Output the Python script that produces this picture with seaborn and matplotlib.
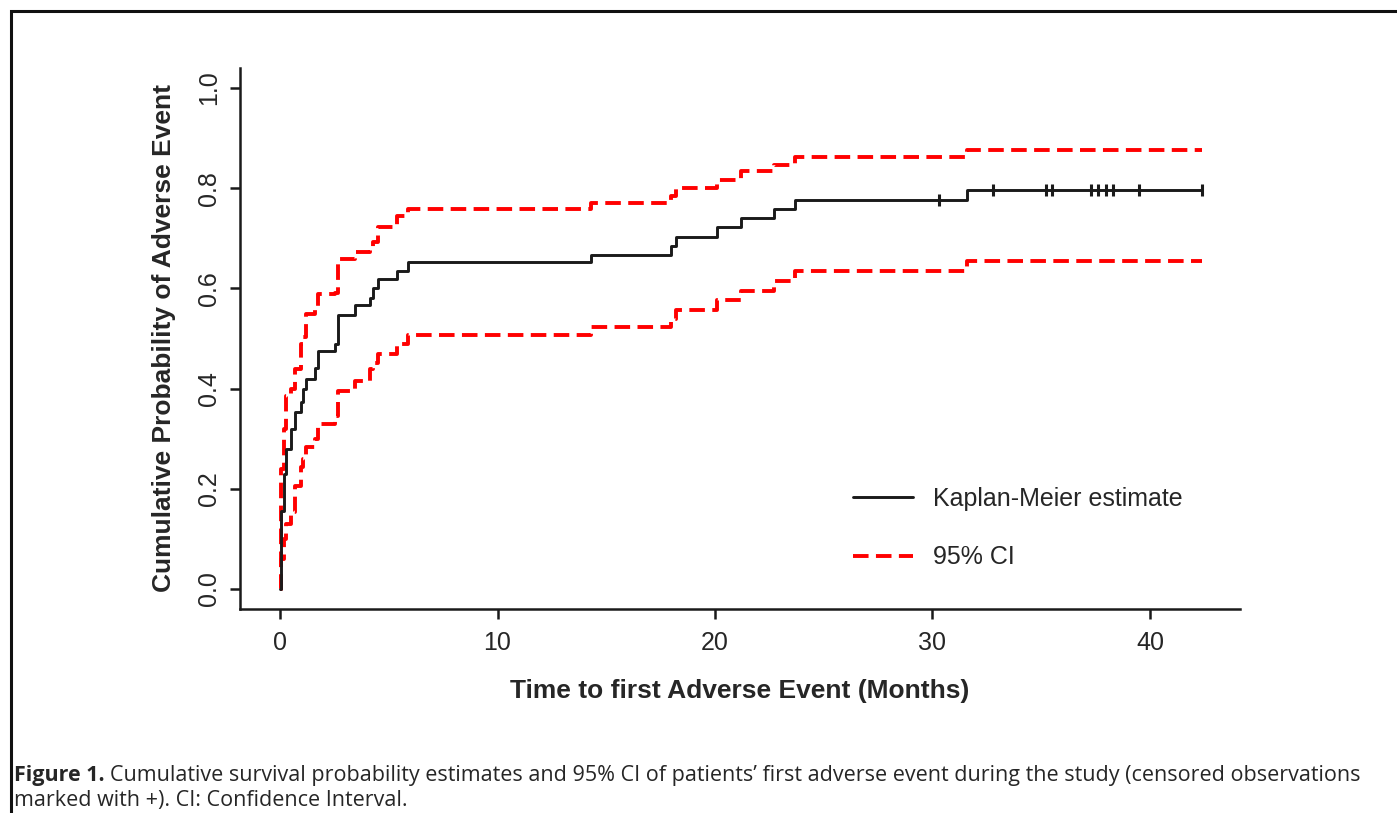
"""
Kaplan-Meier cumulative incidence of first adverse event, with 95% CI.
"""
import numpy as np
import pandas as pd
import matplotlib
matplotlib.use("Agg")
import matplotlib.pyplot as plt
from matplotlib.lines import Line2D
from matplotlib.patches import Rectangle
import seaborn as sns

#================================
# DATA
#================================
event_months = [0.05, 0.18, 0.28, 0.49, 0.69, 0.95, 1.07, 1.2, 1.61, 1.76,
                2.53, 2.68, 3.45, 4.14, 4.29, 4.52, 5.36, 5.9, 14.3, 18.0,
                18.2, 20.1, 21.2, 22.7, 23.7, 31.6]
km_estimate = [0.156, 0.23, 0.279, 0.319, 0.353, 0.373, 0.40, 0.419, 0.442, 0.476,
               0.489, 0.546, 0.566, 0.581, 0.600, 0.619, 0.635, 0.652, 0.667, 0.685,
               0.703, 0.722, 0.740, 0.758, 0.777, 0.796]
ci_upper = [0.24, 0.32, 0.386, 0.40, 0.44, 0.49, 0.502, 0.549, 0.556, 0.589,
            0.59, 0.659, 0.672, 0.68, 0.692, 0.722, 0.745, 0.758, 0.770, 0.785,
            0.801, 0.817, 0.834, 0.846, 0.863, 0.877]
ci_lower = [0.06, 0.10, 0.13, 0.154, 0.206, 0.243, 0.26, 0.283, 0.30, 0.329,
            0.346, 0.396, 0.416, 0.44, 0.452, 0.469, 0.49, 0.506, 0.522, 0.539,
            0.557, 0.576, 0.594, 0.615, 0.635, 0.654]
censor_months = [30.3, 32.8, 35.2, 35.5, 37.3, 37.6, 38.0, 38.3, 39.5, 42.4]
end_month = 42.4

x_ticks = [0, 10, 20, 30, 40]
y_ticks = [0.0, 0.2, 0.4, 0.6, 0.8, 1.0]


def step_frame(values, name):
    return pd.DataFrame({
        "month": [0.0] + event_months + [end_month],
        "prob": [0.0] + values + [values[-1]],
        "series": name,
    })


km_df = step_frame(km_estimate, "km")
ci_df = pd.concat([step_frame(ci_upper, "upper"), step_frame(ci_lower, "lower")])

# KM level at each censoring time
idx = np.searchsorted(event_months, censor_months, side="right") - 1
censor_df = pd.DataFrame({
    "month": censor_months,
    "prob": [km_estimate[i] for i in idx],
})

#================================
# PLOT
#================================
sns.set_style("ticks")
plt.rcParams["font.family"] = ["Liberation Sans", "DejaVu Sans"]

W, H = 1397, 813
fig = plt.figure(figsize=(W / 100, H / 100), dpi=100)
ax = fig.add_axes([240 / W, 1 - 609 / H, 1000 / W, 541 / H])

red_dash = (0, (4.0, 1.9))
sns.lineplot(data=ci_df, x="month", y="prob", units="series", estimator=None,
             color="#ff0000", lw=2.8, linestyle=red_dash, drawstyle="steps-post",
             sort=False, ax=ax)
sns.lineplot(data=km_df, x="month", y="prob", estimator=None, color="#1a1a1a",
             lw=2.1, drawstyle="steps-post", sort=False, ax=ax)
sns.scatterplot(data=censor_df, x="month", y="prob", marker="|", s=70,
                color="#1a1a1a", linewidth=2.2, ax=ax, zorder=4)

ax.set_xlim(-1.84, 44.14)
ax.set_ylim(-0.04, 1.04)
ax.set_xticks(x_ticks)
ax.set_yticks(y_ticks)
ax.set_xticklabels([str(t) for t in x_ticks])
ax.set_yticklabels([f"{t:.1f}" for t in y_ticks], rotation=90, va="center")
ax.tick_params(axis="both", labelsize=18, width=1.8, length=7, color="#1a1a1a")
ax.tick_params(axis="x", pad=9)
ax.tick_params(axis="y", pad=6.5)
for side in ["left", "bottom"]:
    ax.spines[side].set_linewidth(1.8)
    ax.spines[side].set_color("#1a1a1a")
sns.despine(ax=ax)

ax.set_xlabel("Time to first Adverse Event (Months)", fontsize=19, fontweight="bold")
ax.set_ylabel("Cumulative Probability of Adverse Event", fontsize=19, fontweight="bold")
ax.xaxis.set_label_coords(0.5, -0.13)
ax.yaxis.set_label_coords(-0.064, 0.5)

handles = [
    Line2D([], [], color="#1a1a1a", lw=2.1),
    Line2D([], [], color="#ff0000", lw=2.8, linestyle=red_dash),
]
ax.legend(handles, ["Kaplan-Meier estimate", "95% CI"], frameon=False,
          fontsize=18, loc="center left", bbox_to_anchor=(853 / W, 1 - 528 / H),
          bbox_transform=fig.transFigure, borderpad=0, borderaxespad=0,
          handlelength=2.4, handletextpad=0.8, labelspacing=1.4)

# page frame (left and top edges visible)
fig.add_artist(Rectangle((11 / W, -0.5), 2.0, 1.5 - 11 / H, transform=fig.transFigure,
                         fill=False, lw=2.2, edgecolor="#111111"))

# caption: bold lead-in followed by regular text
cap_font = ["Open Sans", "DejaVu Sans"]
cap_size = 15.5
lead = fig.text(14 / W, 1 - 775 / H, "Figure 1.", fontsize=cap_size, fontweight="bold",
                family=cap_font, va="center")
fig.canvas.draw()
bb = lead.get_window_extent()
fig.text(bb.x1 / W + 5 / W, 1 - 775 / H,
         "Cumulative survival probability estimates and 95% CI of patients\u2019 first "
         "adverse event during the study (censored observations",
         fontsize=cap_size, family=cap_font, va="center")
fig.text(14 / W, 1 - 800 / H, "marked with +). CI: Confidence Interval.",
         fontsize=cap_size, family=cap_font, va="center")

fig.savefig("out.png", dpi=100)
plt.close(fig)
